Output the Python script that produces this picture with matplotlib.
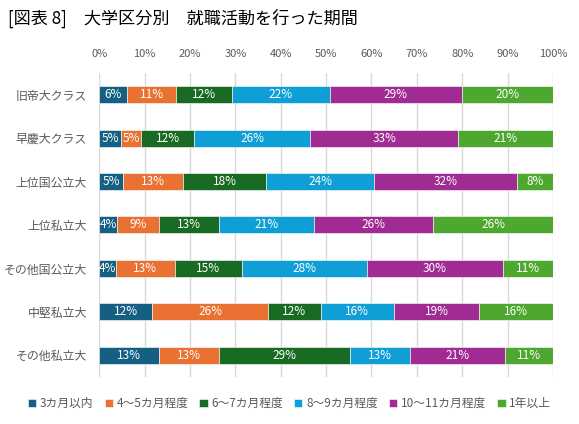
import matplotlib
matplotlib.use("Agg")
import matplotlib.pyplot as plt
import numpy as np

plt.rcParams['font.family'] = ['Noto Sans CJK JP', 'DejaVu Sans']

# categories (top to bottom)
categories = ['旧帝大クラス', '早慶大クラス', '上位国公立大', '上位私立大',
              'その他国公立大', '中堅私立大', 'その他私立大']

series_names = ['3カ月以内', '4〜5カ月程度', '6〜7カ月程度',
                '8〜9カ月程度', '10〜11カ月程度', '1年以上']

# shares in %
within_3m = [6.2, 4.7, 5.3, 3.9, 3.7, 11.6, 13.1]
m4_5 = [10.8, 4.6, 13.1, 9.2, 12.9, 25.6, 13.2]
m6_7 = [12.2, 11.6, 18.4, 13.2, 14.8, 11.6, 28.9]
m8_9 = [21.6, 25.6, 23.7, 21.1, 27.7, 16.2, 13.2]
m10_11 = [29.2, 32.6, 31.6, 26.2, 29.8, 18.7, 21.0]
over_1y = [20.0, 20.9, 7.9, 26.4, 11.1, 16.3, 10.6]

colors = ['#156082', '#E97132', '#196B24', '#0F9ED5', '#A02B93', '#4EA72E']

series = [within_3m, m4_5, m6_7, m8_9, m10_11, over_1y]

fig = plt.figure(figsize=(5.79, 4.24), dpi=100)
ax = fig.add_axes([0.1715, 0.111, 0.7835, 0.717])

y = np.arange(len(categories))
left = np.zeros(len(categories))
for name, vals, col in zip(series_names, series, colors):
    vals = np.array(vals)
    ax.barh(y, vals, left=left, height=0.39, color=col, label=name,
            edgecolor='white', linewidth=0.4, zorder=3)
    for yi, l, v in zip(y, left, vals):
        ax.text(l + v / 2, yi, f'{v:.0f}%', ha='center', va='center',
                color='white', fontsize=8.5, zorder=4)
    left += vals

ax.set_xlim(0, 100)
ax.set_ylim(6.5, -0.5)
ax.set_xticks(np.arange(0, 101, 10))
ax.set_xticklabels([f'{t}%' for t in range(0, 101, 10)])
ax.xaxis.tick_top()
ax.set_yticks(y)
ax.set_yticklabels(categories)
ax.tick_params(axis='both', length=0, colors='#595959', labelsize=8)
ax.tick_params(axis='y', labelsize=8.6, pad=9)
ax.tick_params(axis='x', pad=10)
ax.grid(axis='x', color='#D9D9D9', linewidth=1, zorder=0)
for s in ax.spines.values():
    s.set_visible(False)

fig.text(0.014, 0.956, '[図表 8]　大学区分別　就職活動を行った期間',
         fontsize=12.3, ha='left', va='center', color='black')

fig.legend(loc='center', bbox_to_anchor=(0.5, 0.048), ncol=6, frameon=False,
           fontsize=8.5, handlelength=0.7, handleheight=0.7, handletextpad=0.3,
           columnspacing=0.95, labelcolor='#595959')

fig.savefig('out.png', dpi=100)
